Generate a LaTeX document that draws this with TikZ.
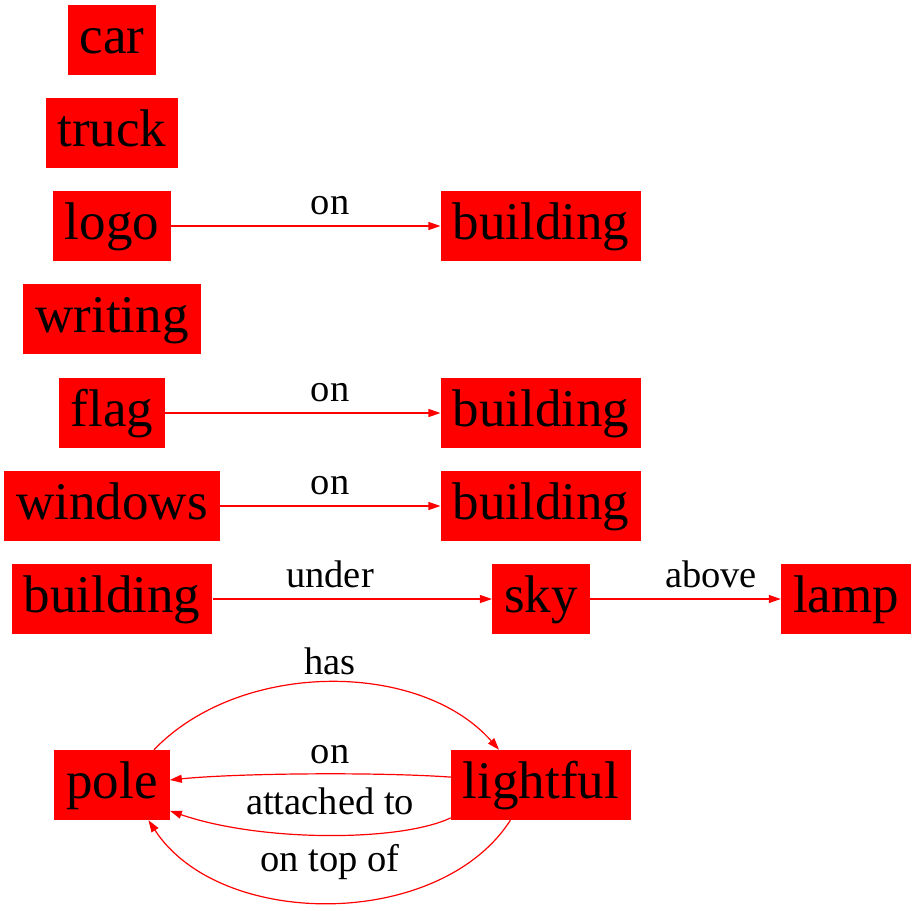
\documentclass[tikz,border=0pt]{standalone}
\usepackage{fontspec}
\setmainfont{Liberation Serif}
\usetikzlibrary{arrows.meta}
\definecolor{boxred}{HTML}{FF0000}
\begin{document}
\begin{tikzpicture}[x=1pt,y=-1pt,
  obj/.style={fill=boxred, draw=none, font=\fontsize{53}{53}\selectfont,
    minimum height=70pt, inner xsep=12pt, inner ysep=0pt,
    text height=40pt, text depth=13pt},
  rel/.style={draw=boxred, line width=1.2pt, -{Triangle[length=12pt,width=8pt]}},
  lbl/.style={font=\fontsize{38.5}{38.5}\selectfont, anchor=base, inner sep=0pt}]
\useasboundingbox (0,0) rectangle (915,910);

% left column
\node[obj] (car)      at (112,40)  {car};
\node[obj] (truck)    at (112,133) {truck};
\node[obj] (logo)     at (112,226) {logo};
\node[obj] (writing)  at (112,319) {writing};
\node[obj] (flag)     at (112,413) {flag};
\node[obj] (windows)  at (112,506) {windows};
\node[obj] (bldgL)    at (112,599) {building};
\node[obj] (pole)     at (112,785) {pole};

% right column
\node[obj] (bldgA)    at (541,226) {building};
\node[obj] (bldgB)    at (541,413) {building};
\node[obj] (bldgC)    at (541,506) {building};
\node[obj] (sky)      at (541,599) {sky};
\node[obj] (lamp)     at (846,599) {lamp};
\node[obj] (lightful) at (541,785) {lightful};

% straight relations
\draw[rel] (logo) -- (bldgA);
\node[lbl] (l1) at (330,214) {on};
\draw[rel] (flag) -- (bldgB);
\node[lbl] (l2) at (330,401) {on};
\draw[rel] (windows) -- (bldgC);
\node[lbl] (l3) at (330,494) {on};
\draw[rel] (bldgL) -- (sky);
\node[lbl] (l4) at (330,587) {under};
\draw[rel] (sky) -- (lamp);
\node[lbl] (l5) at (711,587) {above};

% curved relations between pole and lightful
\draw[rel] (pole.40) .. controls (240,660) and (420,660) .. (lightful.140);
\node[lbl] (l6) at (330,674) {has};
\draw[rel] (lightful.175) .. controls (380,772) and (240,773) .. (pole.5);
\node[lbl] (l7) at (330,763) {on};
\draw[rel] (lightful.200) .. controls (400,842) and (260,842) .. (pole.-24);
\node[lbl] (l8) at (330,814) {attached to};
\draw[rel] (lightful.229) .. controls (440,930) and (220,930) .. (pole.-44);
\node[lbl] (l9) at (330,871) {on top of};
\end{tikzpicture}
\end{document}
